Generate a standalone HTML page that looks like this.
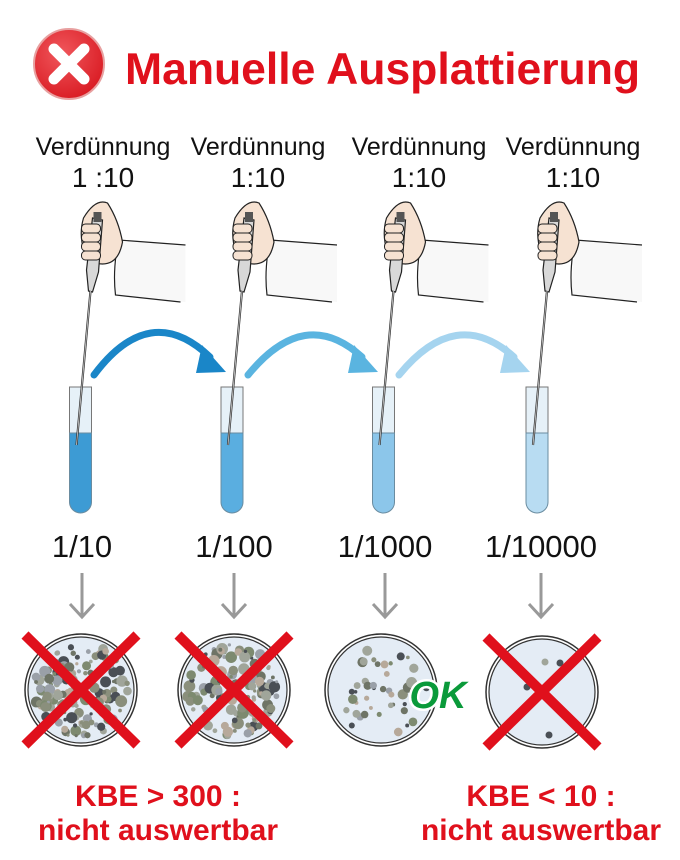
<!DOCTYPE html>
<html><head><meta charset="utf-8"><style>
html,body{margin:0;padding:0;background:#fff;width:680px;height:860px;overflow:hidden}
svg{display:block}
text{font-family:"Liberation Sans",Arial,sans-serif}
</style></head><body>
<svg id="s" width="680" height="860" viewBox="0 0 680 860" xmlns="http://www.w3.org/2000/svg">
<defs>
<radialGradient id="rg" cx="0.4" cy="0.35" r="0.7"><stop offset="0" stop-color="#f0575c"/><stop offset="1" stop-color="#d91a22"/></radialGradient>
</defs>
<circle cx="69" cy="64" r="35" fill="url(#rg)" stroke="#e8a0a0" stroke-width="2"/>
<path d="M54 49 L84 79 M84 49 L54 79" stroke="#fff" stroke-width="11" stroke-linecap="round"/>
<text x="125" y="84" font-size="44.5" font-weight="bold" fill="#e0101c">Manuelle Ausplattierung</text>
<g font-size="25" fill="#111" text-anchor="middle">
<text x="103" y="155">Verdünnung</text><text x="258" y="155">Verdünnung</text><text x="419" y="155">Verdünnung</text><text x="573" y="155">Verdünnung</text>
<text x="103" y="187" font-size="28">1 :10</text><text x="258" y="187" font-size="28">1:10</text><text x="419" y="187" font-size="28">1:10</text><text x="573" y="187" font-size="28">1:10</text>
</g>
<g id="tubes"></g>
<path d="M94 375 Q150 300 210 357" fill="none" stroke="#1a86c8" stroke-width="7" stroke-linecap="round"/>
<polygon points="202,345 226,372 196,373" fill="#1a86c8"/>
<path d="M248 375 Q305 305 362 357" fill="none" stroke="#5ab4e0" stroke-width="7" stroke-linecap="round"/>
<polygon points="354,345 378,372 348,373" fill="#5ab4e0"/>
<path d="M399 375 Q456 305 514 357" fill="none" stroke="#a5d4ef" stroke-width="7" stroke-linecap="round"/>
<polygon points="506,345 530,372 500,373" fill="#a5d4ef"/>
<g font-size="31" fill="#111" text-anchor="middle">
<text x="82" y="557">1/10</text><text x="234" y="557">1/100</text><text x="385" y="557">1/1000</text><text x="541" y="557">1/10000</text>
</g>
<g id="arr" stroke="#999" stroke-width="3" fill="none"></g>
<g id="dishes"></g>
<text x="438" y="708" font-size="38" font-weight="bold" font-style="italic" fill="#0a9a3a" text-anchor="middle" stroke="#fff" stroke-width="5" paint-order="stroke">OK</text>
<g font-size="30" font-weight="bold" fill="#e0101c" text-anchor="middle">
<text x="158" y="806">KBE &gt; 300 :</text><text x="158" y="840">nicht auswertbar</text>
<text x="541" y="806">KBE &lt; 10 :</text><text x="541" y="840">nicht auswertbar</text>
</g>
</svg>
<script>
var NS="http://www.w3.org/2000/svg";
function el(p,t,a){var e=document.createElementNS(NS,t);for(var k in a)e.setAttribute(k,a[k]);p.appendChild(e);return e;}
var T=document.getElementById('tubes');
var cx=[80.5,232,383.5,537],liq=['#3d9bd4','#5aaee0','#8cc6ea','#b8dcf2'];
cx.forEach(function(c,i){
 var g=el(T,'g',{});
 el(g,'path',{d:'M'+(c+38)+' 241 L'+(c+105)+' 246 L'+(c+105)+' 302 L'+(c+34)+' 296 Z',fill:'#f8f8f8'});
 el(g,'path',{d:'M'+(c+38)+' 240 L'+(c+105)+' 245 M'+(c+38)+' 240 Q'+(c+32)+' 270 '+(c+35)+' 295 L'+(c+100)+' 302',fill:'none',stroke:'#222','stroke-width':1.2});
 el(g,'path',{d:'M'+(c+3)+' 218 Q'+(c+15)+' 198 '+(c+27)+' 203 Q'+(c+38)+' 220 '+(c+42)+' 242 Q'+(c+38)+' 264 '+(c+22)+' 264 Q'+(c+8)+' 264 '+(c+4)+' 252 Q'+(c-2)+' 235 '+(c+3)+' 218 Z',fill:'#f6e2d2',stroke:'#222','stroke-width':1.2});
 el(g,'path',{d:'M'+(c+12)+' 218 L'+(c+22)+' 220 L'+(c+18)+' 272 L'+(c+12)+' 292 L'+(c+8)+' 291 L'+(c+6)+' 270 Z',fill:'#d8d8d8',stroke:'#222','stroke-width':1.2});
 el(g,'rect',{x:c+13,y:212,width:8,height:10,fill:'#555'});
 for(var f=0;f<4;f++)el(g,'rect',{x:c+1,y:224+f*9,width:19,height:9,rx:4,fill:'#f6e2d2',stroke:'#222','stroke-width':1});
 el(g,'rect',{x:c-11,y:387,width:22,height:115,fill:'#e6f1f8',stroke:'#777','stroke-width':1});
 el(g,'path',{d:'M'+(c-11)+' 433 L'+(c+11)+' 433 L'+(c+11)+' 502 A11 11 0 0 1 '+(c-11)+' 502 Z',fill:liq[i],stroke:'#6a8ca0','stroke-width':1});
 el(g,'line',{x1:c+10,y1:291,x2:c-4,y2:445,stroke:'#333','stroke-width':2.2});
 el(g,'line',{x1:c+10,y1:291,x2:c-4,y2:445,stroke:'#ccc','stroke-width':0.8});
});
var A=document.getElementById('arr');
[82,234,385,541].forEach(function(x){el(A,'path',{d:'M'+x+' 573 V617 M'+(x-12)+' 604 L'+x+' 617 L'+(x+12)+' 604'});});
var D=document.getElementById('dishes');
var dc=[[81,690],[234,690],[381,690],[542,692]],cnt=[160,130,45,0];
var seed=7;function r(){seed=(seed*9301+49297)%233280;return seed/233280;}
var cols=['#8a8f7c','#a0a59a','#6e7466','#b7a99a','#4a4f55','#9aa0a8','#7d8a70'];
dc.forEach(function(d,i){
 var g=el(D,'g',{});
 el(g,'circle',{cx:d[0],cy:d[1],r:56,fill:'#fff',stroke:'#333','stroke-width':1.5});
 el(g,'circle',{cx:d[0],cy:d[1],r:53,fill:'#e4ecf5',stroke:'#333','stroke-width':1.2});
 for(var k=0;k<cnt[i];k++){var a=r()*6.283,rr=Math.sqrt(r())*47;el(g,'circle',{cx:d[0]+rr*Math.cos(a),cy:d[1]+rr*Math.sin(a),r:1.5+r()*(i==2?4:4.5),fill:cols[Math.floor(r()*7)]});}
 if(i==3){[[545,662,'#a0a59a'],[560,663,'#4a4f55'],[527,687,'#4a4f55'],[549,735,'#4a4f55']].forEach(function(p){el(g,'circle',{cx:p[0],cy:p[1],r:3.5,fill:p[2]});});}
 if(i!=2){el(g,'path',{d:'M'+(d[0]-56)+' '+(d[1]-55)+' L'+(d[0]+56)+' '+(d[1]+55)+' M'+(d[0]+56)+' '+(d[1]-55)+' L'+(d[0]-56)+' '+(d[1]+55),stroke:'#e0101c','stroke-width':10});}
});
</script>
</body></html>
